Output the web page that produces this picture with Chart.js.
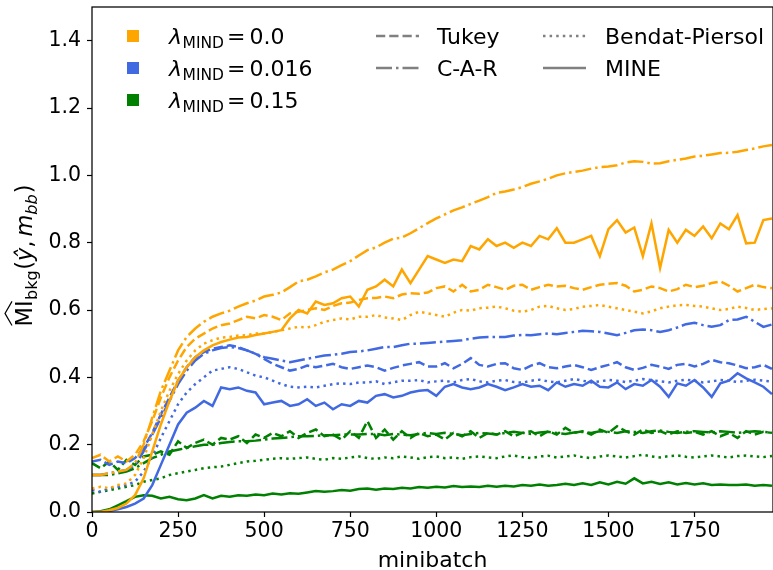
<!DOCTYPE html>
<html>
<head>
<meta charset="utf-8">
<script src="https://cdn.jsdelivr.net/npm/chart.js@4.4.1/dist/chart.umd.min.js"></script>
<style>
html,body{margin:0;padding:0;background:#fff;}
#wrap{width:773px;height:570px;}
</style>
</head>
<body>
<div id="wrap"><canvas id="c" width="773" height="570"></canvas></div>
<script>
const minibatch = [0,25,50,75,100,125,150,175,200,225,250,275,300,325,350,375,400,425,450,475,500,525,550,575,600,625,650,675,700,725,750,775,800,825,850,875,900,925,950,975,1000,1025,1050,1075,1100,1125,1150,1175,1200,1225,1250,1275,1300,1325,1350,1375,1400,1425,1450,1475,1500,1525,1550,1575,1600,1625,1650,1675,1700,1725,1750,1775,1800,1825,1850,1875,1900,1925,1950,1975];

const xTicks = [0,250,500,750,1000,1250,1500,1750];
const yTicks = [0,0.2,0.4,0.6,0.8,1.0,1.2,1.4];

// lambda = 0.0 (orange)
const orangeTukey = [0.16,0.17,0.15,0.165,0.15,0.17,0.21,0.27,0.34,0.40,
0.45,0.49,0.515,0.53,0.545,0.555,0.56,0.57,0.58,0.575,
0.585,0.58,0.57,0.59,0.595,0.60,0.605,0.60,0.612,0.62,
0.622,0.63,0.635,0.636,0.64,0.635,0.646,0.65,0.648,0.652,
0.665,0.67,0.655,0.675,0.655,0.66,0.675,0.668,0.66,0.672,
0.675,0.66,0.668,0.675,0.67,0.672,0.665,0.66,0.668,0.675,
0.678,0.68,0.672,0.655,0.66,0.67,0.665,0.655,0.662,0.675,
0.668,0.672,0.68,0.685,0.672,0.655,0.665,0.675,0.668,0.665];
const orangeCAR = [0.11,0.11,0.115,0.12,0.125,0.145,0.20,0.28,0.36,0.42,
0.48,0.52,0.545,0.565,0.58,0.59,0.598,0.61,0.62,0.628,
0.64,0.645,0.652,0.668,0.685,0.69,0.70,0.712,0.72,0.733,
0.745,0.762,0.778,0.786,0.80,0.812,0.815,0.828,0.843,0.858,
0.872,0.884,0.896,0.905,0.915,0.925,0.935,0.948,0.952,0.958,
0.965,0.975,0.982,0.99,1.0,1.006,1.01,1.014,1.02,1.024,
1.026,1.03,1.038,1.042,1.04,1.035,1.036,1.042,1.046,1.05,
1.056,1.058,1.062,1.066,1.067,1.07,1.075,1.08,1.086,1.09];
const orangeBP = [0.07,0.075,0.07,0.08,0.085,0.11,0.16,0.23,0.30,0.36,
0.41,0.45,0.48,0.50,0.51,0.518,0.52,0.524,0.525,0.53,
0.53,0.535,0.54,0.545,0.55,0.548,0.555,0.565,0.57,0.575,
0.572,0.58,0.58,0.585,0.578,0.575,0.57,0.585,0.595,0.59,
0.585,0.58,0.592,0.60,0.598,0.605,0.607,0.61,0.605,0.598,
0.595,0.60,0.61,0.612,0.605,0.60,0.603,0.61,0.612,0.615,
0.61,0.605,0.60,0.595,0.59,0.596,0.605,0.61,0.614,0.615,
0.612,0.61,0.605,0.60,0.603,0.61,0.606,0.60,0.603,0.605];
const orangeMINE = [0.0,0.0,0.005,0.012,0.025,0.05,0.10,0.18,0.26,0.33,
0.39,0.43,0.46,0.48,0.495,0.505,0.512,0.518,0.52,0.526,
0.53,0.535,0.54,0.575,0.60,0.59,0.625,0.615,0.62,0.635,
0.64,0.61,0.66,0.67,0.69,0.67,0.72,0.68,0.72,0.76,
0.75,0.74,0.75,0.745,0.79,0.78,0.81,0.79,0.80,0.785,
0.80,0.79,0.82,0.81,0.843,0.80,0.80,0.81,0.82,0.76,
0.84,0.867,0.83,0.845,0.76,0.857,0.725,0.838,0.80,0.838,
0.82,0.848,0.813,0.857,0.84,0.882,0.798,0.80,0.867,0.872];

// lambda = 0.016 (blue)
const blueTukey = [0.15,0.155,0.14,0.15,0.145,0.16,0.19,0.235,0.29,0.34,
0.39,0.43,0.46,0.475,0.485,0.49,0.495,0.49,0.48,0.47,
0.455,0.44,0.43,0.42,0.425,0.435,0.43,0.435,0.44,0.43,
0.425,0.43,0.435,0.43,0.42,0.428,0.435,0.44,0.445,0.432,
0.432,0.442,0.427,0.44,0.457,0.437,0.432,0.44,0.442,0.427,
0.422,0.435,0.442,0.43,0.427,0.432,0.437,0.43,0.422,0.43,
0.437,0.445,0.43,0.422,0.428,0.437,0.432,0.425,0.437,0.44,
0.432,0.44,0.452,0.445,0.442,0.435,0.427,0.43,0.437,0.425];
const blueCAR = [0.11,0.11,0.115,0.12,0.125,0.14,0.18,0.23,0.28,0.33,
0.38,0.42,0.45,0.47,0.48,0.487,0.49,0.487,0.48,0.47,
0.46,0.455,0.45,0.445,0.45,0.455,0.46,0.465,0.467,0.47,
0.475,0.477,0.48,0.485,0.49,0.49,0.495,0.50,0.50,0.502,
0.504,0.506,0.508,0.51,0.515,0.518,0.52,0.52,0.52,0.524,
0.526,0.525,0.528,0.53,0.528,0.532,0.535,0.538,0.537,0.535,
0.53,0.525,0.532,0.54,0.542,0.54,0.535,0.54,0.548,0.558,
0.562,0.555,0.55,0.555,0.57,0.572,0.58,0.565,0.55,0.557];
const blueBP = [0.065,0.06,0.07,0.075,0.08,0.09,0.12,0.165,0.22,0.27,
0.32,0.355,0.38,0.40,0.42,0.425,0.43,0.425,0.415,0.405,
0.40,0.39,0.38,0.372,0.37,0.372,0.37,0.375,0.38,0.382,
0.38,0.385,0.385,0.388,0.38,0.385,0.39,0.39,0.392,0.385,
0.388,0.39,0.385,0.392,0.395,0.388,0.385,0.39,0.392,0.386,
0.384,0.39,0.393,0.388,0.385,0.39,0.395,0.39,0.385,0.388,
0.392,0.39,0.386,0.39,0.395,0.392,0.388,0.385,0.39,0.393,
0.39,0.385,0.388,0.392,0.39,0.386,0.39,0.393,0.39,0.388];
const blueMINE = [0.0,0.0,0.003,0.008,0.015,0.025,0.04,0.08,0.14,0.20,
0.26,0.295,0.31,0.33,0.315,0.37,0.365,0.37,0.36,0.355,
0.32,0.325,0.33,0.315,0.32,0.335,0.315,0.325,0.305,0.32,
0.315,0.33,0.325,0.345,0.35,0.34,0.345,0.355,0.36,0.362,
0.345,0.372,0.38,0.37,0.365,0.37,0.38,0.372,0.362,0.37,
0.38,0.372,0.375,0.362,0.385,0.372,0.38,0.375,0.39,0.372,
0.37,0.385,0.365,0.38,0.375,0.392,0.372,0.342,0.382,0.375,
0.392,0.37,0.342,0.382,0.39,0.412,0.397,0.385,0.372,0.35];

// lambda = 0.15 (green)
const greenTukey = [0.145,0.13,0.15,0.125,0.155,0.14,0.165,0.17,0.18,0.17,
0.21,0.19,0.205,0.215,0.20,0.22,0.215,0.225,0.205,0.23,
0.22,0.235,0.225,0.24,0.22,0.235,0.245,0.225,0.23,0.215,
0.24,0.22,0.27,0.22,0.245,0.215,0.24,0.22,0.235,0.225,
0.23,0.215,0.235,0.225,0.24,0.22,0.235,0.23,0.24,0.225,
0.235,0.24,0.225,0.24,0.23,0.25,0.235,0.24,0.23,0.245,
0.235,0.255,0.24,0.23,0.245,0.235,0.24,0.23,0.24,0.235,
0.238,0.23,0.24,0.225,0.235,0.22,0.24,0.23,0.238,0.235];
const greenCAR = [0.11,0.11,0.11,0.115,0.12,0.13,0.145,0.16,0.17,0.18,
0.185,0.19,0.195,0.20,0.20,0.205,0.208,0.21,0.21,0.212,
0.215,0.218,0.22,0.222,0.225,0.225,0.226,0.228,0.228,0.23,
0.23,0.23,0.232,0.232,0.228,0.232,0.23,0.228,0.232,0.235,
0.232,0.235,0.232,0.228,0.232,0.235,0.233,0.23,0.235,0.238,
0.235,0.232,0.236,0.238,0.235,0.232,0.236,0.238,0.235,0.24,
0.238,0.235,0.24,0.238,0.235,0.24,0.242,0.238,0.235,0.238,
0.24,0.238,0.236,0.24,0.238,0.235,0.238,0.24,0.238,0.236];
const greenBP = [0.055,0.06,0.065,0.07,0.075,0.08,0.09,0.095,0.10,0.11,
0.115,0.12,0.125,0.13,0.133,0.135,0.14,0.145,0.15,0.152,
0.155,0.158,0.16,0.158,0.16,0.162,0.158,0.155,0.16,0.158,
0.162,0.165,0.16,0.158,0.162,0.16,0.165,0.162,0.158,0.163,
0.165,0.16,0.162,0.158,0.163,0.165,0.162,0.16,0.165,0.168,
0.163,0.16,0.165,0.167,0.162,0.165,0.168,0.163,0.16,0.165,
0.168,0.165,0.162,0.166,0.17,0.165,0.162,0.166,0.168,0.164,
0.162,0.165,0.168,0.165,0.162,0.166,0.168,0.165,0.163,0.166];
const greenMINE = [0.0,0.002,0.008,0.02,0.032,0.045,0.05,0.048,0.04,0.045,
0.038,0.035,0.04,0.05,0.04,0.048,0.045,0.05,0.048,0.052,
0.05,0.055,0.052,0.056,0.054,0.058,0.062,0.06,0.062,0.065,
0.063,0.068,0.07,0.066,0.07,0.068,0.072,0.07,0.074,0.072,
0.075,0.073,0.077,0.074,0.076,0.074,0.078,0.075,0.078,0.076,
0.08,0.078,0.082,0.078,0.08,0.084,0.08,0.085,0.08,0.088,
0.082,0.09,0.084,0.1,0.085,0.09,0.083,0.088,0.082,0.086,
0.082,0.085,0.08,0.082,0.08,0.08,0.082,0.078,0.08,0.078];

const lambdaLabels = ['0.0','0.016','0.15'];
const methodLabels = ['Tukey','C-A-R','Bendat-Piersol','MINE'];

const COLORS = ['#FFA500','#4169E1','#008000'];
const LW = 2.5;
const DASHES = {
  'Tukey':[9.25,4],
  'C-A-R':[16,4,2.5,4],
  'Bendat-Piersol':[2.5,4.1],
  'MINE':[]
};
const FONT = "'DejaVu Sans', 'Liberation Sans', sans-serif";

const seriesTable = [
  [orangeTukey, orangeCAR, orangeBP, orangeMINE],
  [blueTukey, blueCAR, blueBP, blueMINE],
  [greenTukey, greenCAR, greenBP, greenMINE]
];

const datasets = [];
seriesTable.forEach((group, li) => {
  group.forEach((vals, mi) => {
    datasets.push({
      label: 'lambda ' + lambdaLabels[li] + ' ' + methodLabels[mi],
      data: minibatch.map((x, i) => ({x: x, y: vals[i]})),
      borderColor: COLORS[li],
      backgroundColor: COLORS[li],
      borderWidth: LW,
      borderDash: DASHES[methodLabels[mi]],
      pointRadius: 0,
      tension: 0,
      fill: false
    });
  });
});

function drawParts(ctx, x, y, parts) {
  for (const p of parts) {
    ctx.font = p.font;
    ctx.fillText(p.t, x, y + (p.dy || 0));
    x += ctx.measureText(p.t).width + (p.gap || 0);
  }
  return x;
}
function measureParts(ctx, parts) {
  let w = 0;
  for (const p of parts) { ctx.font = p.font; w += ctx.measureText(p.t).width + (p.gap || 0); }
  return w;
}

const overlay = {
  id: 'overlay',
  afterDraw(chart) {
    const ctx = chart.ctx;
    const a = chart.chartArea;
    ctx.save();
    // frame
    ctx.strokeStyle = '#000';
    ctx.lineWidth = 1.25;
    ctx.setLineDash([]);
    ctx.strokeRect(a.left, a.top, a.right - a.left, a.bottom - a.top);

    ctx.fillStyle = '#000';
    ctx.textBaseline = 'alphabetic';
    ctx.textAlign = 'left';
    const F22 = '22px ' + FONT;
    const F15 = '15.5px ' + FONT;
    const I22 = 'italic 22px ' + FONT;
    const FL = '22.5px ' + FONT;
    const FLs = '16px ' + FONT;
    const IL = 'italic 22.5px ' + FONT;
    const ILs = 'italic 16px ' + FONT;

    // legend: colour squares
    const rows = [36, 68, 100];
    lambdaLabels.forEach((lab, i) => {
      ctx.fillStyle = COLORS[i];
      ctx.fillRect(127, rows[i] - 6, 12, 12);
      ctx.fillStyle = '#000';
      drawParts(ctx, 169, rows[i] + 8, [
        {t: 'λ', font: I22, gap: 0.5},
        {t: 'MIND', font: F15, dy: 4, gap: 3},
        {t: '=', font: F22, gap: 4},
        {t: lab, font: F22}
      ]);
    });
    // legend: line styles
    const styleEntries = [
      {m: 'Tukey', x: 376, tx: 437, y: rows[0]},
      {m: 'C-A-R', x: 376, tx: 437, y: rows[1]},
      {m: 'Bendat-Piersol', x: 543, tx: 605, y: rows[0]},
      {m: 'MINE', x: 543, tx: 605, y: rows[1]}
    ];
    for (const e of styleEntries) {
      ctx.strokeStyle = '#808080';
      ctx.lineWidth = LW;
      ctx.setLineDash(DASHES[e.m]);
      ctx.beginPath();
      ctx.moveTo(e.x, e.y);
      ctx.lineTo(e.x + 43, e.y);
      ctx.stroke();
      ctx.setLineDash([]);
      ctx.fillStyle = '#000';
      ctx.font = F22;
      ctx.fillText(e.m, e.tx, e.y + 8);
    }

    // x-axis title
    ctx.font = F22;
    ctx.textAlign = 'center';
    ctx.fillText('minibatch', (a.left + a.right) / 2, 567);
    ctx.textAlign = 'left';

    // y-axis title (rotated)
    const parts = [
      {t: 'MI', font: FL, gap: 0.5},
      {t: 'bkg', font: FLs, dy: 4.5, gap: 0.5},
      {t: '(', font: FL},
      {t: 'ŷ', font: IL},
      {t: ',', font: FL, gap: 4},
      {t: 'm', font: IL},
      {t: 'bb', font: ILs, dy: 4.5, gap: 1},
      {t: ')', font: FL}
    ];
    const total = measureParts(ctx, parts);
    ctx.translate(32, 255.5);
    ctx.rotate(-Math.PI / 2);
    const x0 = -total / 2;
    ctx.font = FL;
    const miW = ctx.measureText('MI').width;
    drawParts(ctx, x0, 0, parts);
    // wide hat over MI
    ctx.strokeStyle = '#000';
    ctx.lineWidth = 1.2;
    ctx.beginPath();
    ctx.moveTo(x0 + 1, -20);
    ctx.lineTo(x0 + miW / 2, -27);
    ctx.lineTo(x0 + miW - 1, -20);
    ctx.stroke();
    ctx.restore();
  }
};

new Chart(document.getElementById('c'), {
  type: 'line',
  data: {datasets: datasets},
  options: {
    responsive: false,
    animation: false,
    devicePixelRatio: 1,
    layout: {padding: {top: 7, right: 0, left: 0, bottom: 0}},
    plugins: {legend: {display: false}, tooltip: {enabled: false}},
    elements: {line: {borderCapStyle: 'butt', borderJoinStyle: 'miter'}},
    scales: {
      x: {
        type: 'linear',
        min: 0,
        max: 1978,
        afterBuildTicks: (s) => { s.ticks = xTicks.map(v => ({value: v})); },
        afterFit: (s) => { s.height = 58; s.paddingLeft = 0; s.paddingRight = 0; },
        grid: {drawOnChartArea: false, drawTicks: true, tickLength: 5, tickColor: '#000', tickWidth: 1.2, color: '#000'},
        border: {display: false},
        ticks: {
          color: '#000',
          font: {family: FONT, size: 20.5},
          padding: 2,
          maxRotation: 0,
          autoSkip: false,
          callback: (v) => String(v)
        }
      },
      y: {
        min: 0,
        max: 1.5,
        afterBuildTicks: (s) => { s.ticks = yTicks.map(v => ({value: v})); },
        afterFit: (s) => { s.width = 92; s.paddingTop = 0; s.paddingBottom = 0; },
        grid: {drawOnChartArea: false, drawTicks: true, tickLength: 5, tickColor: '#000', tickWidth: 1.2, color: '#000'},
        border: {display: false},
        ticks: {
          color: '#000',
          font: {family: FONT, size: 20.5},
          padding: 6,
          autoSkip: false,
          callback: (v) => Number(v).toFixed(1)
        }
      }
    }
  },
  plugins: [overlay]
});
</script>
</body>
</html>
